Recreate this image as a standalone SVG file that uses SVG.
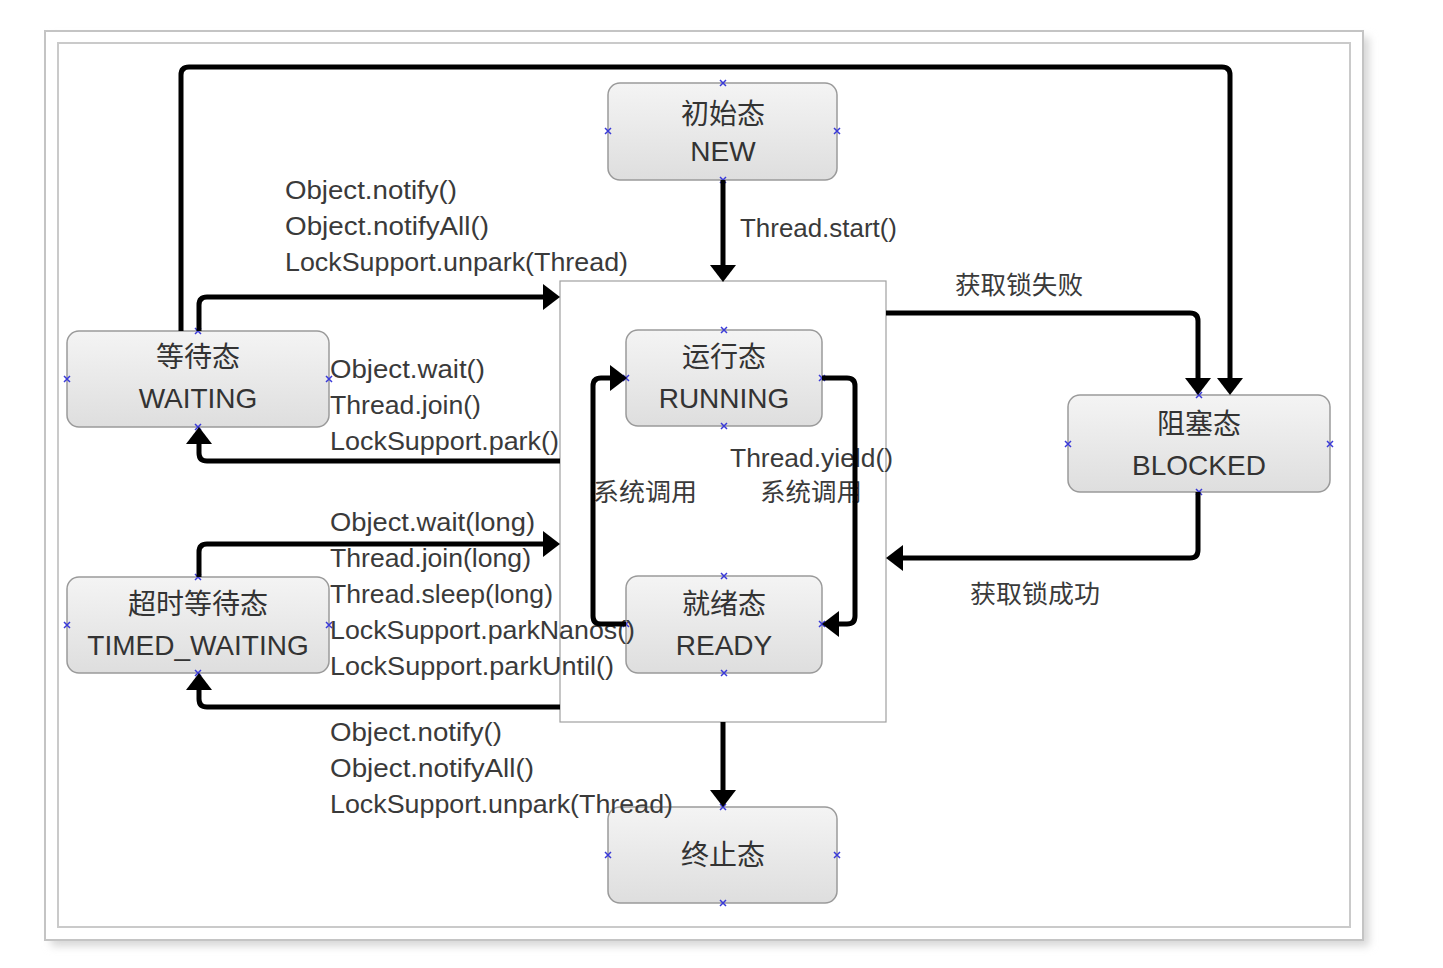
<svg xmlns="http://www.w3.org/2000/svg" width="1443" height="968" viewBox="0 0 1443 968">
<defs>
<style>
.node rect{fill:url(#ng);stroke:#9a9a9a;stroke-width:1.5}
.nt{font-family:"Liberation Sans","Noto Sans CJK SC",sans-serif;font-size:28px;fill:#333;text-anchor:middle}
.lb{font-family:"Liberation Sans","Noto Sans CJK SC",sans-serif;font-size:25px;fill:#3a3a3a}
.cn{font-family:"Noto Sans CJK SC",sans-serif;font-size:25px;fill:#3a3a3a}
.conn path{fill:none;stroke:#000;stroke-width:5;stroke-linejoin:round}
.pt{fill:none;stroke:#3a3ad8;stroke-width:1.5}
</style>
<linearGradient id="ng" x1="0" y1="0" x2="0" y2="1">
<stop offset="0" stop-color="#f4f4f4"/>
<stop offset="1" stop-color="#dedede"/>
</linearGradient>
<marker id="ah" markerUnits="userSpaceOnUse" markerWidth="18" markerHeight="26" refX="0" refY="13" orient="auto" viewBox="0 0 18 26">
<path d="M0,0 L17,13 L0,26 z" fill="#000"/>
</marker>
<filter id="sh" x="-5%" y="-5%" width="110%" height="110%">
<feGaussianBlur stdDeviation="4"/>
</filter>
<g id="px"><path class="pt" d="M-3,-3 L3,3 M-3,3 L3,-3"/></g>
</defs>
<rect width="1443" height="968" fill="#fff"/>
<g id="frame">
<rect x="51" y="37" width="1318" height="909" fill="#d6d6d6" filter="url(#sh)"/>
<rect x="45" y="31" width="1318" height="909" fill="#fff" stroke="#c4c4c4" stroke-width="2"/>
<rect x="58" y="43" width="1292" height="884" fill="#fff" stroke="#cacaca" stroke-width="2"/>
</g>
<g id="container">
<rect x="560" y="281" width="326" height="441" fill="#fff" stroke="#a0a0a0" stroke-width="1.2"/>
</g>
<g id="node-new" class="node">
<rect x="608" y="83" width="229" height="97" rx="12"/>
<text class="nt" x="723" y="124">初始态</text>
<text class="nt" x="723" y="161">NEW</text>
<use href="#px" x="723" y="83"/><use href="#px" x="723" y="180"/><use href="#px" x="608" y="131"/><use href="#px" x="837" y="131"/>
</g>
<g id="node-waiting" class="node">
<rect x="67" y="331" width="262" height="96" rx="12"/>
<text class="nt" x="198" y="367">等待态</text>
<text class="nt" x="198" y="408">WAITING</text>
<use href="#px" x="198" y="331"/><use href="#px" x="198" y="427"/><use href="#px" x="67" y="379"/><use href="#px" x="329" y="379"/>
</g>
<g id="node-running" class="node">
<rect x="626" y="330" width="196" height="96" rx="12"/>
<text class="nt" x="724" y="367">运行态</text>
<text class="nt" x="724" y="408">RUNNING</text>
<use href="#px" x="724" y="330"/><use href="#px" x="724" y="426"/><use href="#px" x="626" y="378"/><use href="#px" x="822" y="378"/>
</g>
<g id="node-blocked" class="node">
<rect x="1068" y="395" width="262" height="97" rx="12"/>
<text class="nt" x="1199" y="434">阻塞态</text>
<text class="nt" x="1199" y="475">BLOCKED</text>
<use href="#px" x="1199" y="395"/><use href="#px" x="1199" y="492"/><use href="#px" x="1068" y="444"/><use href="#px" x="1330" y="444"/>
</g>
<g id="node-timed" class="node">
<rect x="67" y="577" width="262" height="96" rx="12"/>
<text class="nt" x="198" y="614">超时等待态</text>
<text class="nt" x="198" y="655">TIMED_WAITING</text>
<use href="#px" x="198" y="577"/><use href="#px" x="198" y="673"/><use href="#px" x="67" y="625"/><use href="#px" x="329" y="625"/>
</g>
<g id="node-ready" class="node">
<rect x="626" y="576" width="196" height="97" rx="12"/>
<text class="nt" x="724" y="614">就绪态</text>
<text class="nt" x="724" y="655">READY</text>
<use href="#px" x="724" y="576"/><use href="#px" x="724" y="673"/><use href="#px" x="626" y="624"/><use href="#px" x="822" y="624"/>
</g>
<g id="node-terminated" class="node">
<rect x="608" y="807" width="229" height="96" rx="12"/>
<text class="nt" x="723" y="865">终止态</text>
<use href="#px" x="723" y="807"/><use href="#px" x="723" y="903"/><use href="#px" x="608" y="855"/><use href="#px" x="837" y="855"/>
</g>
<g id="labels">
<text class="lb" x="740" y="237" textLength="157" lengthAdjust="spacingAndGlyphs">Thread.start()</text>
<text class="lb" x="285" y="199" textLength="172" lengthAdjust="spacingAndGlyphs">Object.notify()</text>
<text class="lb" x="285" y="235" textLength="204" lengthAdjust="spacingAndGlyphs">Object.notifyAll()</text>
<text class="lb" x="285" y="271" textLength="343" lengthAdjust="spacingAndGlyphs">LockSupport.unpark(Thread)</text>
<text class="lb" x="330" y="378" textLength="155" lengthAdjust="spacingAndGlyphs">Object.wait()</text>
<text class="lb" x="330" y="414" textLength="151" lengthAdjust="spacingAndGlyphs">Thread.join()</text>
<text class="lb" x="330" y="450" textLength="229" lengthAdjust="spacingAndGlyphs">LockSupport.park()</text>
<text class="lb" x="330" y="531" textLength="205" lengthAdjust="spacingAndGlyphs">Object.wait(long)</text>
<text class="lb" x="330" y="567" textLength="201" lengthAdjust="spacingAndGlyphs">Thread.join(long)</text>
<text class="lb" x="330" y="603" textLength="223" lengthAdjust="spacingAndGlyphs">Thread.sleep(long)</text>
<text class="lb" x="330" y="639" textLength="305" lengthAdjust="spacingAndGlyphs">LockSupport.parkNanos()</text>
<text class="lb" x="330" y="675" textLength="284" lengthAdjust="spacingAndGlyphs">LockSupport.parkUntil()</text>
<text class="lb" x="330" y="741" textLength="172" lengthAdjust="spacingAndGlyphs">Object.notify()</text>
<text class="lb" x="330" y="777" textLength="204" lengthAdjust="spacingAndGlyphs">Object.notifyAll()</text>
<text class="lb" x="330" y="813" textLength="343" lengthAdjust="spacingAndGlyphs">LockSupport.unpark(Thread)</text>
<text class="lb" x="730" y="467" textLength="163" lengthAdjust="spacingAndGlyphs">Thread.yield()</text>
<text class="cn" x="593" y="501" textLength="104" lengthAdjust="spacingAndGlyphs">系统调用</text>
<text class="cn" x="760" y="501" textLength="102" lengthAdjust="spacingAndGlyphs">系统调用</text>
<text class="cn" x="955" y="294" textLength="128" lengthAdjust="spacingAndGlyphs">获取锁失败</text>
<text class="cn" x="970" y="603" textLength="130" lengthAdjust="spacingAndGlyphs">获取锁成功</text>
</g>
<g id="connectors" class="conn">
<path d="M723,180 V265" marker-end="url(#ah)"/>
<path d="M181,331 V75 Q181,67 189,67 H1222 Q1230,67 1230,75 V378" marker-end="url(#ah)"/>
<path d="M886,313 H1190 Q1198,313 1198,321 V378" marker-end="url(#ah)"/>
<path d="M1198,492 V550 Q1198,558 1190,558 H903" marker-end="url(#ah)"/>
<path d="M199,331 V305 Q199,297 207,297 H543" marker-end="url(#ah)"/>
<path d="M560,461 H207 Q199,461 199,453 V444" marker-end="url(#ah)"/>
<path d="M199,577 V552 Q199,544 207,544 H543" marker-end="url(#ah)"/>
<path d="M560,707 H207 Q199,707 199,699 V690" marker-end="url(#ah)"/>
<path d="M723,722 V790" marker-end="url(#ah)"/>
<path d="M626,624 H601 Q593,624 593,616 V386 Q593,378 601,378 H610" marker-end="url(#ah)"/>
<path d="M822,378 H847 Q855,378 855,386 V616 Q855,624 847,624 H839" marker-end="url(#ah)"/>
</g>
</svg>
